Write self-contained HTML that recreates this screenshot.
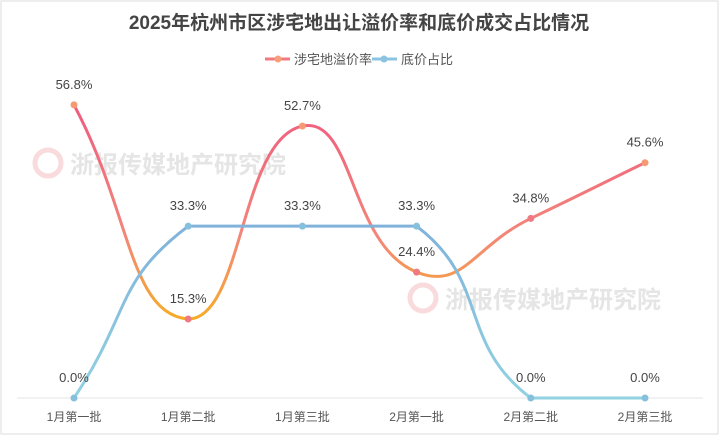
<!DOCTYPE html>
<html><head><meta charset="utf-8"><style>
html,body{margin:0;padding:0;background:#fff;}
body{width:719px;height:435px;overflow:hidden;font-family:"Liberation Sans","Noto Sans CJK SC",sans-serif;}
</style></head><body>
<svg id="chart" width="719" height="435" viewBox="0 0 719 435" xmlns="http://www.w3.org/2000/svg">
<defs>
<linearGradient id="gRed" gradientUnits="userSpaceOnUse" x1="0" y1="100" x2="0" y2="325">
<stop offset="0" stop-color="#ef5a7e"/><stop offset="0.6" stop-color="#f2867a"/><stop offset="1" stop-color="#f7ae22"/></linearGradient>
<linearGradient id="gBlue" gradientUnits="userSpaceOnUse" x1="0" y1="215" x2="0" y2="400">
<stop offset="0" stop-color="#7fb0da"/><stop offset="1" stop-color="#92d2e2"/></linearGradient>
</defs>
<rect x="1" y="1" width="717" height="433" fill="#fff" stroke="#ddd"/>
<text x="359" y="29" text-anchor="middle" font-size="19" font-weight="bold" fill="#444">2025年杭州市区涉宅地出让溢价率和底价成交占比情况</text>
<g>
<line x1="265" y1="59" x2="290" y2="59" stroke="#f07a82" stroke-width="3"/><circle cx="278" cy="59" r="3.5" fill="#f5a07a"/>
<text x="294" y="64" font-size="13" fill="#555">涉宅地溢价率</text></g>
<g>
<line x1="372" y1="59" x2="397" y2="59" stroke="#8ac4e0" stroke-width="3"/><circle cx="384" cy="59" r="3.5" fill="#8ac4e0"/>
<text x="401" y="64" font-size="13" fill="#555">底价占比</text></g>
<g opacity="0.5">
<circle cx="48" cy="163" r="13" fill="none" stroke="#f4b8bd" stroke-width="5"/>
<text x="70" y="173" font-size="24" font-weight="bold" fill="#ccc">浙报传媒地产研究院</text></g>
<g opacity="0.5">
<circle cx="423" cy="298" r="13" fill="none" stroke="#f4b8bd" stroke-width="5"/>
<text x="445" y="308" font-size="24" font-weight="bold" fill="#ccc">浙报传媒地产研究院</text></g>
<line x1="17" y1="398" x2="703" y2="398" stroke="#e6e6e6"/>
<g id="xlabels"></g>
<g id="series"></g>
</svg>
<script>
const categories=["1月第一批","1月第二批","1月第三批","2月第一批","2月第二批","2月第三批"];
const premiumRate=[56.8,15.3,52.7,24.4,34.8,45.6];
const floorShare=[0.0,33.3,33.3,33.3,0.0,0.0];
const NS="http://www.w3.org/2000/svg";
const x0=74,dx=114.2,yBase=398,pxPer=5.16;
const xS=i=>x0+i*dx, yS=v=>yBase-v*pxPer;
function mk(t,a){const e=document.createElementNS(NS,t);for(const k in a)e.setAttribute(k,a[k]);return e;}
const xl=document.getElementById('xlabels');
categories.forEach((c,i)=>{const t=mk('text',{x:xS(i),y:421,'text-anchor':'middle','font-size':'12',fill:'#555'});


t.textContent=c;xl.appendChild(t);});
function path(vals){
const p=vals.map((v,i)=>[xS(i),yS(v)]);const n=p.length,s=0.5;
const ys=p.map(q=>q[1]);const yMin=Math.min(...ys),yMax=Math.max(...ys);
const cpIn=[],cpOut=[];
for(let i=0;i<n;i++){const a=p[Math.max(i-1,0)],b=p[i],c=p[Math.min(i+1,n-1)];
const vx=(c[0]-a[0])*s,vy=(c[1]-a[1])*s;
const d0=Math.hypot(b[0]-a[0],b[1]-a[1]),d1=Math.hypot(c[0]-b[0],c[1]-b[1]);const sum=d0+d1||1;
const cl=y=>Math.min(yMax,Math.max(yMin,y));
cpIn.push([b[0]-vx*d0/sum,cl(b[1]-vy*d0/sum)]);cpOut.push([b[0]+vx*d1/sum,cl(b[1]+vy*d1/sum)]);}
let d=`M${p[0][0]},${p[0][1]}`;
for(let i=0;i<n-1;i++)d+=` C${cpOut[i][0]},${cpOut[i][1]} ${cpIn[i+1][0]},${cpIn[i+1][1]} ${p[i+1][0]},${p[i+1][1]}`;
return d;}
const g=document.getElementById('series');
function series(vals,stroke,name,dotCol){
const pe=mk('path',{d:path(vals),fill:'none',stroke:stroke,'stroke-width':'3'});


g.appendChild(pe);
vals.forEach((v,i)=>{const c=mk('circle',{cx:xS(i),cy:yS(v),r:3.5,fill:dotCol(v)});


g.appendChild(c);
const t=mk('text',{x:xS(i),y:yS(v)-16,'text-anchor':'middle','font-size':'13',fill:'#444'});


t.textContent=v.toFixed(1)+'%';g.appendChild(t);});}
series(premiumRate,'url(#gRed)','premium-rate',v=>v>40?'#f59a72':'#f07a82');
series(floorShare,'url(#gBlue)','floor-share',v=>'#86c0dc');
</script>
</body></html>
